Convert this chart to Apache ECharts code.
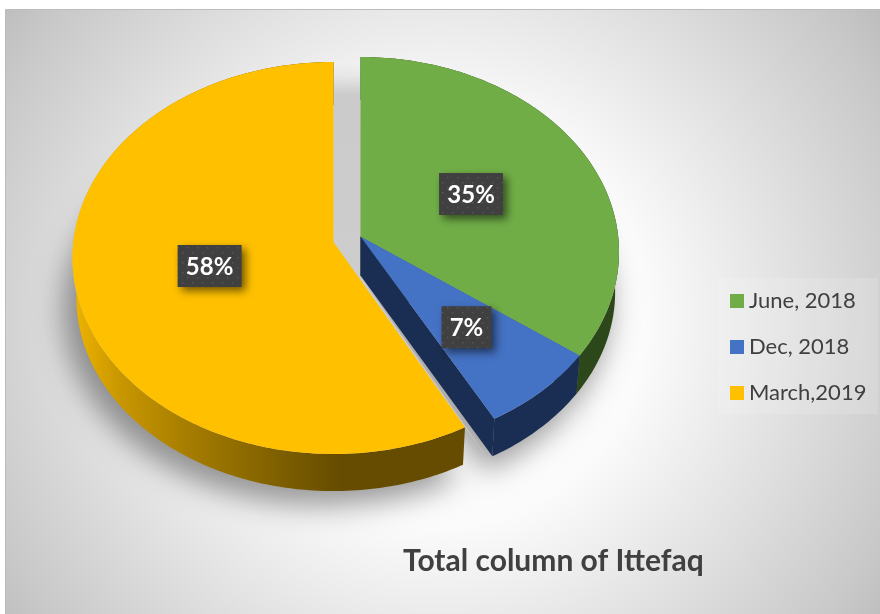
<!DOCTYPE html>
<html><head><meta charset="utf-8">
<style>html,body{margin:0;padding:0;background:#fff}#c{width:880px;height:614px}</style>
<script src="https://cdn.jsdelivr.net/npm/echarts@6/dist/echarts.min.js"></script>
</head><body><div id="c"></div>
<script>
const categories = ['June, 2018', 'Dec, 2018', 'March,2019'];
const values = [35, 7, 58];
const topColors = ['#70ad47', '#4472c4', '#ffc000'];
const chartTitle = 'Total column of Ittefaq';

// pie geometry (ellipse for the top face, apex seen in perspective)
const geo = [
  {cx: 360.5, cy: 252, rx: 258.5, ry: 195, ax: 360.5, ay: 236.5, lf: 0.48, k: 0.92},
  {cx: 360.5, cy: 252, rx: 258.5, ry: 195, ax: 360.5, ay: 236.5, lf: 0.62, k: 0.92},
  {cx: 333.5, cy: 258, rx: 261,   ry: 196, ax: 333.5, ay: 242,   lf: 0.49, k: 0.95}
];
const DEPTH = 40, SHRINK = 0.985;
const wallFill = [
  '#2c4719', '#1a2d52',
  new echarts.graphic.LinearGradient(72, 0, 466, 0, [
    {offset: 0, color: '#f0b400'}, {offset: 0.12, color: '#c99700'},
    {offset: 0.3, color: '#a57c00'}, {offset: 0.55, color: '#7a5c00'},
    {offset: 0.68, color: '#664c00'}, {offset: 1, color: '#664c00'}], true)
];
const total = values.reduce((a, b) => a + b, 0);
const starts = values.map((v, i) => values.slice(0, i).reduce((a, b) => a + b, 0) / total * 360);
const warp = (g, d) => { const h = d * Math.PI / 360; return 2 * Math.atan2(g.k * Math.sin(h), Math.cos(h)); };
const rimTop = (g, d) => { const t = warp(g, d); return [g.cx + g.rx * Math.sin(t), g.cy - g.ry * Math.cos(t)]; };
const rimLow = (g, d) => { const t = warp(g, d); return [g.cx + g.rx * SHRINK * Math.sin(t), g.cy + DEPTH - g.ry * SHRINK * Math.cos(t)]; };
function arc(fn, g, a, b) { const p = []; const n = Math.max(2, Math.ceil(Math.abs(b - a))); for (let i = 0; i <= n; i++) p.push(fn(g, a + (b - a) * i / n)); return p; }
function sector(i) { const g = geo[i], a = starts[i], b = a + values[i] / total * 360; return [[g.ax, g.ay]].concat(arc(rimTop, g, a, b)); }

const tile = document.createElement('canvas'); tile.width = tile.height = 10;
(function () { const c = tile.getContext('2d'); c.fillStyle = '#404040'; c.fillRect(0, 0, 10, 10); c.fillStyle = '#555555';
  [[2, 2], [7, 7]].forEach(p => c.fillRect(p[0], p[1], 1.5, 1.5)); })();

const renderShadow = (params) => {
  const kids = values.map((v, i) => ({type: 'polygon', shape: {points: sector(i)},
    style: {fill: '#d0d0d0', shadowColor: 'rgba(0,0,0,0.38)', shadowBlur: 28, shadowOffsetY: 52, shadowOffsetX: -9}}));
  const y = geo[2], g = geo[0], e = rimTop(y, starts[2]);
  kids.push({type: 'polygon', shape: {points: [[y.ax, 64], [g.ax, 64], [g.ax, g.ay + DEPTH], [e[0] + 26, e[1] + 36], e, [y.ax, y.ay]]},
    style: {fill: new echarts.graphic.LinearGradient(0, 64, 0, 470, [
      {offset: 0, color: 'rgba(205,205,205,0)'}, {offset: 0.03, color: 'rgba(205,205,205,0.3)'}, {offset: 0.075, color: '#cbcbcb'}, {offset: 0.75, color: '#cecece'}, {offset: 1, color: '#d2d2d2'}], true)}});
  return {type: 'group', children: kids};
};
const renderSlice = i => () => {
  const g = geo[i], a = starts[i], b = a + values[i] / total * 360;
  const kids = [];
  const topArc = arc(rimTop, g, a, b), lowArc = arc(rimLow, g, a, b).reverse();
  kids.push({type: 'polygon', shape: {points: topArc.concat(lowArc)}, style: {fill: wallFill[i]}});
  const et = rimTop(g, b), el = rimLow(g, b);
  kids.push({type: 'polygon', shape: {points: [[g.ax, g.ay], [g.ax, g.ay + DEPTH - 1], el, et]}, style: {fill: wallFill[i]}});
  kids.push({type: 'polygon', shape: {points: sector(i)}, style: {fill: topColors[i]}});
  return {type: 'group', children: kids};
};
const renderLabel = i => () => {
  const g = geo[i], m = (starts[i] + values[i] / total * 180) * Math.PI / 180;
  const x = g.ax + g.lf * g.rx * Math.sin(m), y = g.ay - g.lf * g.ry * Math.cos(m);
  const w = String(values[i]).length > 1 ? 64 : 50, h = 42;
  return {type: 'group', children: [
    {type: 'rect', shape: {x: x - w / 2, y: y - h / 2, width: w, height: h},
     style: {fill: {image: tile, repeat: 'repeat'}, shadowColor: 'rgba(0,0,0,0.55)', shadowBlur: 8, shadowOffsetX: 4, shadowOffsetY: 4}},
    {type: 'text', style: {text: values[i] + '%', x: x, y: y + 1, align: 'center', verticalAlign: 'middle',
      fill: '#ffffff', font: 'bold 24px Lato'}}
  ]};
};

const series = [{type: 'custom', name: 'shadow', coordinateSystem: 'none', silent: true, data: [0], renderItem: renderShadow}];
categories.forEach((c, i) => series.push({type: 'custom', name: c, coordinateSystem: 'none', silent: true,
  itemStyle: {color: topColors[i]}, data: [values[i]], renderItem: renderSlice(i)}));
categories.forEach((c, i) => series.push({type: 'custom', name: 'label' + i, coordinateSystem: 'none', silent: true,
  data: [values[i]], renderItem: renderLabel(i)}));

const chart = echarts.init(document.getElementById('c'), null, {renderer: 'canvas'});
chart.setOption({
  animation: false,
  backgroundColor: '#ffffff',
  graphic: [
    {type: 'rect', z: -10, shape: {x: 5.5, y: 9.5, width: 880, height: 620},
     style: {fill: new echarts.graphic.RadialGradient(440, 320, 540, [
       {offset: 0, color: '#ffffff'}, {offset: 0.38, color: '#fbfbfb'}, {offset: 0.6, color: '#e6e6e6'},
       {offset: 0.9, color: '#c9c9c9'}, {offset: 1, color: '#bdbdbd'}], true), stroke: '#bcbcbc', lineWidth: 1}},
    {type: 'rect', z: -9, shape: {x: 718, y: 278, width: 160, height: 136}, style: {fill: 'rgba(255,255,255,0.14)'}}
  ],
  title: {text: chartTitle, left: 403, top: 546, padding: 0,
    textStyle: {fontFamily: 'Lato', fontWeight: 'bold', fontSize: 30, color: '#404040'}},
  legend: {data: categories, orient: 'vertical', left: 730, top: 290, padding: 0, itemWidth: 14, itemHeight: 14, itemGap: 24,
    icon: 'rect', selectedMode: false, textStyle: {fontFamily: 'Lato', fontSize: 22, color: '#404040'}},
  tooltip: {show: false},
  series: series
});
</script></body></html>
